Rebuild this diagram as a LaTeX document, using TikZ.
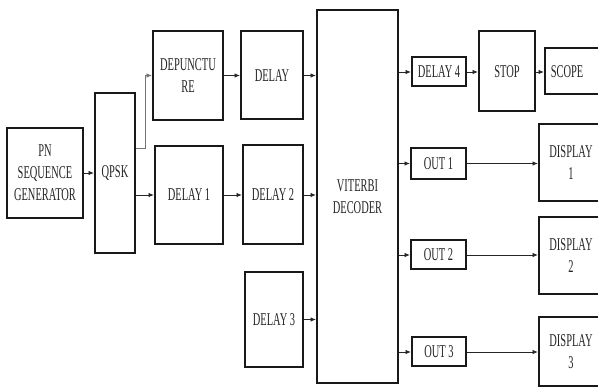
\documentclass[tikz,border=0pt]{standalone}
\usepackage{fontspec}
\setmainfont[FakeStretch=0.58]{Liberation Serif}
\usetikzlibrary{arrows.meta}
\begin{document}
\begin{tikzpicture}[x=1pt,y=-1pt,
  box/.style={draw=black!90, line width=2pt, inner sep=0pt, align=center,
    text=black!85, font=\fontsize{18}{22}\selectfont},
  conn/.style={draw=black!85, line width=0.9pt, -{Latex[length=5.5pt,width=4.5pt]}},
  thinconn/.style={draw=black!55, line width=0.8pt, -{Latex[length=5.5pt,width=4.5pt]}}]
\clip (0,0) rectangle (598,387);
\fill[white] (0,0) rectangle (598,387);
% boxes
\node[box, minimum width=76pt, minimum height=90pt] (pn) at (45,173) {PN\\SEQUENCE\\GENERATOR};
\node[box, minimum width=40pt, minimum height=160pt] (qpsk) at (115,173) {QPSK};
\node[box, minimum width=70pt, minimum height=89pt] (dep) at (188,75.5) {DEPUNCTU\\RE};
\node[box, minimum width=62pt, minimum height=88pt] (delay) at (272,75.5) {DELAY};
\node[box, minimum width=68pt, minimum height=98pt] (d1) at (189,195) {DELAY 1};
\node[box, minimum width=60pt, minimum height=99pt] (d2) at (273,195) {DELAY 2};
\node[box, minimum width=58pt, minimum height=95pt] (d3) at (274,319.5) {DELAY 3};
\node[box, minimum width=81pt, minimum height=373pt] (vit) at (357.5,196.5) {VITERBI\\DECODER};
\node[box, minimum width=54pt, minimum height=29pt] (d4) at (439,72) {DELAY 4};
\node[box, minimum width=56pt, minimum height=80pt] (stop) at (507,71.5) {STOP};
\node[box, minimum width=62pt, minimum height=46pt] (scope) at (576,71.5) {};
\node[text=black!85, font=\fontsize{18}{22}\selectfont] at (567,71.5) {SCOPE};
\node[box, minimum width=55pt, minimum height=31pt] (o1) at (438.5,163.5) {OUT 1};
\node[box, minimum width=55pt, minimum height=29pt] (o2) at (438.5,255) {OUT 2};
\node[box, minimum width=54pt, minimum height=29pt] (o3) at (439,352) {OUT 3};
\node[box, minimum width=64pt, minimum height=77pt] (disp1) at (571,162.5) {DISPLAY\\1};
\node[box, minimum width=64pt, minimum height=77pt] (disp2) at (571,255.5) {DISPLAY\\2};
\node[box, minimum width=64pt, minimum height=69pt] (disp3) at (571,351.5) {DISPLAY\\3};
% connectors
\draw[conn] (pn.east) -- (qpsk.west);
\draw[conn] (qpsk.east |- d1.west) -- (d1.west);
\draw[thinconn] (qpsk.east |- 0,148) -| (145,148) |- (dep.west);
\draw[conn] (dep.east) -- (delay.west);
\draw[conn] (delay.east) -- (delay.east -| vit.west);
\draw[conn] (d1.east) -- (d2.west);
\draw[conn] (d2.east) -- (d2.east -| vit.west);
\draw[conn] (d3.east) -- (d3.east -| vit.west);
\draw[conn] (vit.east |- d4.west) -- (d4.west);
\draw[conn] (vit.east |- o1.west) -- (o1.west);
\draw[conn] (vit.east |- o2.west) -- (o2.west);
\draw[conn] (vit.east |- o3.west) -- (o3.west);
\draw[conn] (d4.east) -- (stop.west |- d4.east);
\draw[conn] (stop.east |- d4.east) -- (scope.west |- d4.east);
\draw[conn] (o1.east) -- (disp1.west |- o1.east);
\draw[conn] (o2.east) -- (disp2.west |- o2.east);
\draw[conn] (o3.east) -- (disp3.west |- o3.east);
\end{tikzpicture}
\end{document}
